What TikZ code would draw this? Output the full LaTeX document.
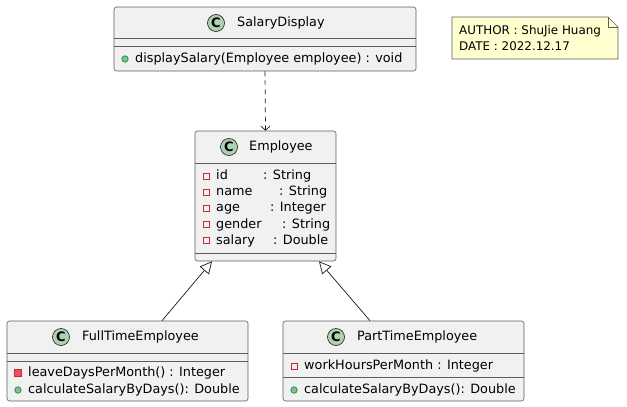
\documentclass[tikz,border=0pt]{standalone}
\usepackage{fontspec}
\setmainfont{DejaVu Sans}
\usetikzlibrary{arrows.meta}

\definecolor{boxfill}{HTML}{F1F1F1}
\definecolor{boxline}{HTML}{181818}
\definecolor{iconfill}{HTML}{ADD1B2}
\definecolor{privred}{HTML}{C82930}
\definecolor{privfill}{HTML}{F24D5C}
\definecolor{pubfill}{HTML}{84BE84}
\definecolor{publine}{HTML}{038048}
\definecolor{notefill}{HTML}{FEFECE}

\newcommand{\membfont}{\fontsize{12.8}{15}\selectfont}
\newcommand{\notefont}{\fontsize{11.9}{14}\selectfont}

\tikzset{
  classbox/.style={draw=boxline!70, fill=boxfill, line width=0.6pt, rounded corners=2.5pt, inner sep=0pt},
  sepline/.style={draw=boxline!70, line width=0.6pt},
  cicon/.style={circle, draw=boxline, fill=iconfill, line width=0.6pt, minimum size=17pt, inner sep=0pt, font=\fontsize{13}{13}\selectfont\bfseries},
  ctitle/.style={anchor=west, inner sep=0pt, font=\membfont},
  member/.style={anchor=west, inner sep=0pt, font=\membfont},
  privf/.style={draw=privred, line width=0.8pt, minimum size=6pt, inner sep=0pt},
  privm/.style={draw=privred, fill=privfill, line width=0.8pt, minimum size=6.5pt, inner sep=0pt},
  pubm/.style={circle, draw=publine, fill=pubfill, line width=0.6pt, minimum size=6.5pt, inner sep=0pt},
  depend/.style={draw=boxline, line width=0.7pt, dash pattern=on 5pt off 4pt, -{Straight Barb[length=4pt, width=9pt]}},
  inherit/.style={draw=boxline, line width=0.7pt, -{Triangle[open, fill=white, length=12pt, width=12pt]}},
  notebox/.style={draw=boxline!70, fill=notefill, line width=0.6pt, line join=round}
}

\begin{document}
\begin{tikzpicture}[x=1pt, y=-1pt]
  \useasboundingbox (0,0) rectangle (627,407);

  \node[classbox, minimum width=302pt, minimum height=64pt] (disp) at (265,39) {};
  \node[cicon] (dispC) at (216,23) {C};
  \node[ctitle] (dispT) at (237,23) {SalaryDisplay};
  \draw[sepline] (disp.west |- 0,38) -- (disp.east |- 0,38);
  \draw[sepline] (disp.west |- 0,46) -- (disp.east |- 0,46);
  \node[pubm] (dispI1) at (125,59) {};
  \node[member] (dispM1) at (135,59) {displaySalary(Employee employee) : void};

  \node[classbox, minimum width=141pt, minimum height=130pt] (emp) at (265.5,196) {};
  \node[cicon] (empC) at (229,147) {C};
  \node[ctitle] (empT) at (249,147) {Employee};
  \draw[sepline] (emp.west |- 0,163) -- (emp.east |- 0,163);
  \node[privf] (empI1) at (206,176) {};
  \node[member] (empA1) at (216,176) {\makebox[47pt][l]{id}: String};
  \node[privf] (empI2) at (206,192.2) {};
  \node[member] (empA2) at (216,192.2) {\makebox[63pt][l]{name}: String};
  \node[privf] (empI3) at (206,208.4) {};
  \node[member] (empA3) at (216,208.4) {\makebox[54pt][l]{age}: Integer};
  \node[privf] (empI4) at (206,224.6) {};
  \node[member] (empA4) at (216,224.6) {\makebox[66pt][l]{gender}: String};
  \node[privf] (empI5) at (206,240.8) {};
  \node[member] (empA5) at (216,240.8) {\makebox[57pt][l]{salary}: Double};
  \draw[sepline] (emp.west |- 0,253) -- (emp.east |- 0,253);

  \node[classbox, minimum width=241pt, minimum height=80pt] (fte) at (127.5,361) {};
  \node[cicon] (fteC) at (61,337) {C};
  \node[ctitle] (fteT) at (82,337) {FullTimeEmployee};
  \draw[sepline] (fte.west |- 0,353) -- (fte.east |- 0,353);
  \draw[sepline] (fte.west |- 0,361) -- (fte.east |- 0,361);
  \node[privm] (fteI1) at (18,373) {};
  \node[member] (fteM1) at (28,373) {leaveDaysPerMonth() : Integer};
  \node[pubm] (fteI2) at (18,390) {};
  \node[member] (fteM2) at (28,390) {calculateSalaryByDays(): Double};

  \node[classbox, minimum width=241pt, minimum height=80pt] (pte) at (403.5,361) {};
  \node[cicon] (pteC) at (336,337) {C};
  \node[ctitle] (pteT) at (357,337) {PartTimeEmployee};
  \draw[sepline] (pte.west |- 0,353) -- (pte.east |- 0,353);
  \node[privf] (pteI1) at (294,366) {};
  \node[member] (pteA1) at (304,366) {workHoursPerMonth : Integer};
  \draw[sepline] (pte.west |- 0,377) -- (pte.east |- 0,377);
  \node[pubm] (pteI2) at (294,390) {};
  \node[member] (pteM1) at (304,390) {calculateSalaryByDays(): Double};

  \draw[depend] (disp.south) -- (emp.north);
  \draw[inherit] ([xshift=34.5pt]fte.north) -- ([xshift=-53.5pt]emp.south);
  \draw[inherit] ([xshift=-33.5pt]pte.north) -- ([xshift=53.5pt]emp.south);

  \draw[notebox] (452,17) -- (608,17) -- (618,27) -- (618,59) -- (452,59) -- cycle;
  \draw[notebox, fill=none] (608,17) -- (608,27) -- (618,27);
  \node[member, font=\notefont] (noteL1) at (459,31) {AUTHOR : ShuJie Huang};
  \node[member, font=\notefont] (noteL2) at (459,46) {DATE : 2022.12.17};
\end{tikzpicture}
\end{document}
